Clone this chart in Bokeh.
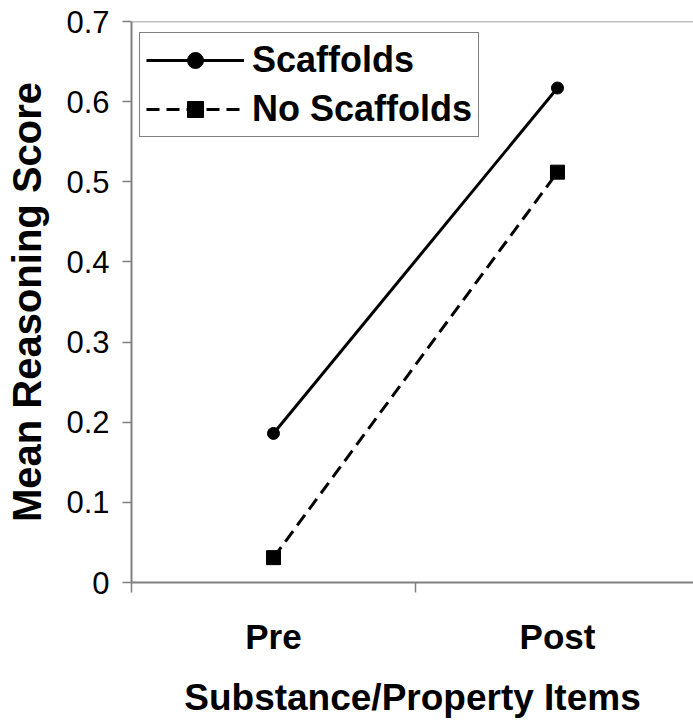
from bokeh.plotting import figure
from bokeh.models import Range1d, FixedTicker, Span, Legend
from bokeh.embed import file_html
from bokeh.resources import INLINE

categories = ["Pre", "Post"]
scaffolds = [0.186, 0.617]
no_scaffolds = [0.031, 0.512]
y_ticks = [0, 0.1, 0.2, 0.3, 0.4, 0.5, 0.6, 0.7]
y_tick_labels = ["0", "0.1", "0.2", "0.3", "0.4", "0.5", "0.6", "0.7"]

x_pos = [i + 0.5 for i in range(len(categories))]
boundaries = [i for i in range(len(categories) + 1)]

FONT = "Liberation Sans"
AXIS_GREY = "#808080"

p = figure(width=693, height=721, output_backend="svg", toolbar_location=None,
           x_range=Range1d(0, 1.979), y_range=Range1d(0, 0.7),
           min_border_left=131, min_border_top=21, min_border_right=0,
           min_border_bottom=139)
p.outline_line_color = None
p.grid.visible = False
p.background_fill_color = "white"
p.border_fill_color = "white"

# top border of the plot area
p.add_layout(Span(location=y_ticks[-1], dimension="width", line_color=AXIS_GREY, line_width=1.5))

r1 = p.line(x_pos, scaffolds, line_color="black", line_width=3)
r1m = p.scatter(x_pos, scaffolds, marker="circle", size=12, fill_color="black", line_color="black")
r2 = p.line(x_pos, no_scaffolds, line_color="black", line_width=3, line_dash="13 7")
r2m = p.scatter(x_pos, no_scaffolds, marker="square", size=14, fill_color="black", line_color="black")

# x axis
xa = p.xaxis[0]
xa.ticker = FixedTicker(ticks=x_pos, minor_ticks=boundaries)
xa.major_label_overrides = {x: c for x, c in zip(x_pos, categories)}
xa.major_tick_line_color = None
xa.major_tick_out = 0
xa.major_tick_in = 0
xa.minor_tick_line_color = AXIS_GREY
xa.minor_tick_line_width = 1.5
xa.minor_tick_out = 10
xa.minor_tick_in = 0
xa.axis_line_color = AXIS_GREY
xa.axis_line_width = 2
xa.major_label_text_font = FONT
xa.major_label_text_font_style = "bold"
xa.major_label_text_font_size = "35px"
xa.major_label_text_color = "black"
xa.major_label_standoff = 24
xa.axis_label = "Substance/Property Items"
xa.axis_label_text_font = FONT
xa.axis_label_text_font_style = "bold"
xa.axis_label_text_font_size = "37px"
xa.axis_label_text_color = "black"
xa.axis_label_standoff = 18

# y axis
ya = p.yaxis[0]
ya.ticker = FixedTicker(ticks=y_ticks)
ya.major_label_overrides = {t: l for t, l in zip(y_ticks, y_tick_labels)}
ya.minor_tick_line_color = None
ya.major_tick_line_color = AXIS_GREY
ya.major_tick_line_width = 1.5
ya.major_tick_out = 9
ya.major_tick_in = 0
ya.axis_line_color = AXIS_GREY
ya.axis_line_width = 2
ya.major_label_text_font = FONT
ya.major_label_text_font_size = "31px"
ya.major_label_text_color = "black"
ya.major_label_standoff = 13
ya.axis_label = "Mean Reasoning Score"
ya.axis_label_text_font = FONT
ya.axis_label_text_font_style = "bold"
ya.axis_label_text_font_size = "40px"
ya.axis_label_text_color = "black"
ya.axis_label_standoff = 14

legend = Legend(items=[("Scaffolds", [r1, r1m]), ("No Scaffolds", [r2, r2m])],
                location=(8, 445))
legend.border_line_color = "black"
legend.border_line_width = 1
legend.background_fill_color = "white"
legend.background_fill_alpha = 1
legend.label_text_font = FONT
legend.label_text_font_style = "bold"
legend.label_text_font_size = "36px"
legend.label_text_color = "black"
legend.glyph_width = 98
legend.glyph_height = 40
legend.label_standoff = 8
legend.padding = 6
legend.spacing = 7
legend.margin = 0
p.add_layout(legend, "center")

open("out.html", "w").write(file_html(p, INLINE))
